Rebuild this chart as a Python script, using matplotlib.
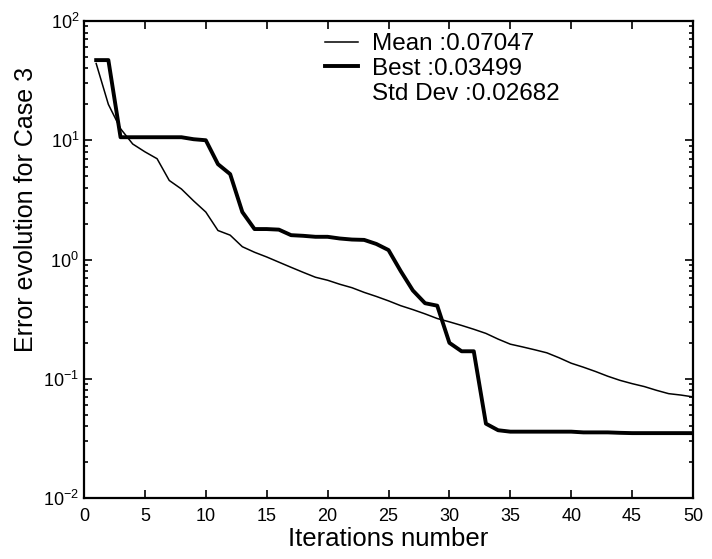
import numpy as np
import matplotlib.pyplot as plt
from matplotlib.lines import Line2D
from matplotlib.ticker import LogLocator, NullFormatter

plt.rcParams['font.family'] = ['Liberation Sans', 'DejaVu Sans']
plt.rcParams['mathtext.fontset'] = 'custom'
plt.rcParams['mathtext.rm'] = 'Liberation Sans'
plt.rcParams['mathtext.it'] = 'Liberation Sans'

iterations = np.arange(1, 51)

mean_error = [44, 20, 12.5, 9.3, 8.0, 7.0, 4.6, 3.9, 3.1, 2.5,
              1.75, 1.6, 1.28, 1.15, 1.05, 0.95, 0.86, 0.78, 0.71, 0.67,
              0.62, 0.58, 0.53, 0.49, 0.45, 0.41, 0.38, 0.35, 0.32, 0.30,
              0.28, 0.26, 0.24, 0.215, 0.195, 0.185, 0.175, 0.165, 0.15, 0.135,
              0.125, 0.115, 0.105, 0.097, 0.091, 0.086, 0.080, 0.075, 0.073, 0.07047]

best_error = [47, 47, 10.6, 10.6, 10.6, 10.6, 10.6, 10.6, 10.2, 10.0,
              6.3, 5.2, 2.5, 1.8, 1.8, 1.78, 1.6, 1.58, 1.55, 1.55,
              1.5, 1.47, 1.46, 1.35, 1.2, 0.8, 0.55, 0.43, 0.41, 0.2,
              0.17, 0.17, 0.042, 0.037, 0.036, 0.036, 0.036, 0.036, 0.036, 0.036,
              0.0355, 0.0355, 0.0355, 0.0352, 0.035, 0.035, 0.035, 0.035, 0.035, 0.03499]

mean_label = 'Mean :0.07047'
best_label = 'Best :0.03499'
std_label = 'Std Dev :0.02682'

fig = plt.figure(figsize=(7.12, 5.59), dpi=100)
ax = fig.add_axes([84 / 712, 1 - 498 / 559, 609 / 712, 477 / 559])

ax.plot(iterations, mean_error, color='black', lw=1.1)
ax.plot(iterations, best_error, color='black', lw=2.8)

ax.set_yscale('log')
ax.set_xlim(0, 50)
ax.set_ylim(1e-2, 1e2)
ax.set_xticks(np.arange(0, 51, 5))
ax.yaxis.set_minor_locator(LogLocator(base=10, subs=np.arange(2, 10)))
ax.yaxis.set_minor_formatter(NullFormatter())

ax.tick_params(which='both', direction='in', top=True, right=True, labelsize=13,
               width=1.2)
ax.tick_params(which='major', length=6)
ax.tick_params(which='minor', length=3)
ax.tick_params(axis='x', pad=7)
for s in ax.spines.values():
    s.set_linewidth(1.6)

ax.set_xlabel('Iterations number', fontsize=18.5, labelpad=2)
ax.set_ylabel('Error evolution for Case 3', fontsize=18)
ax.yaxis.set_label_coords(-0.075, 0.605)

# legend: two curve entries plus a text-only line for the spread
handles = [Line2D([], [], color='black', lw=1.1),
           Line2D([], [], color='black', lw=2.8),
           Line2D([], [], linestyle='none')]
ax.legend(handles, [mean_label, best_label, std_label], loc='upper left',
          bbox_to_anchor=(325 / 712, 1 - 33 / 559), bbox_transform=fig.transFigure,
          frameon=False, fontsize=17.5, handlelength=1.35, handletextpad=0.6,
          borderpad=0, borderaxespad=0, labelspacing=0.12)

fig.savefig('out.png', dpi=100)
